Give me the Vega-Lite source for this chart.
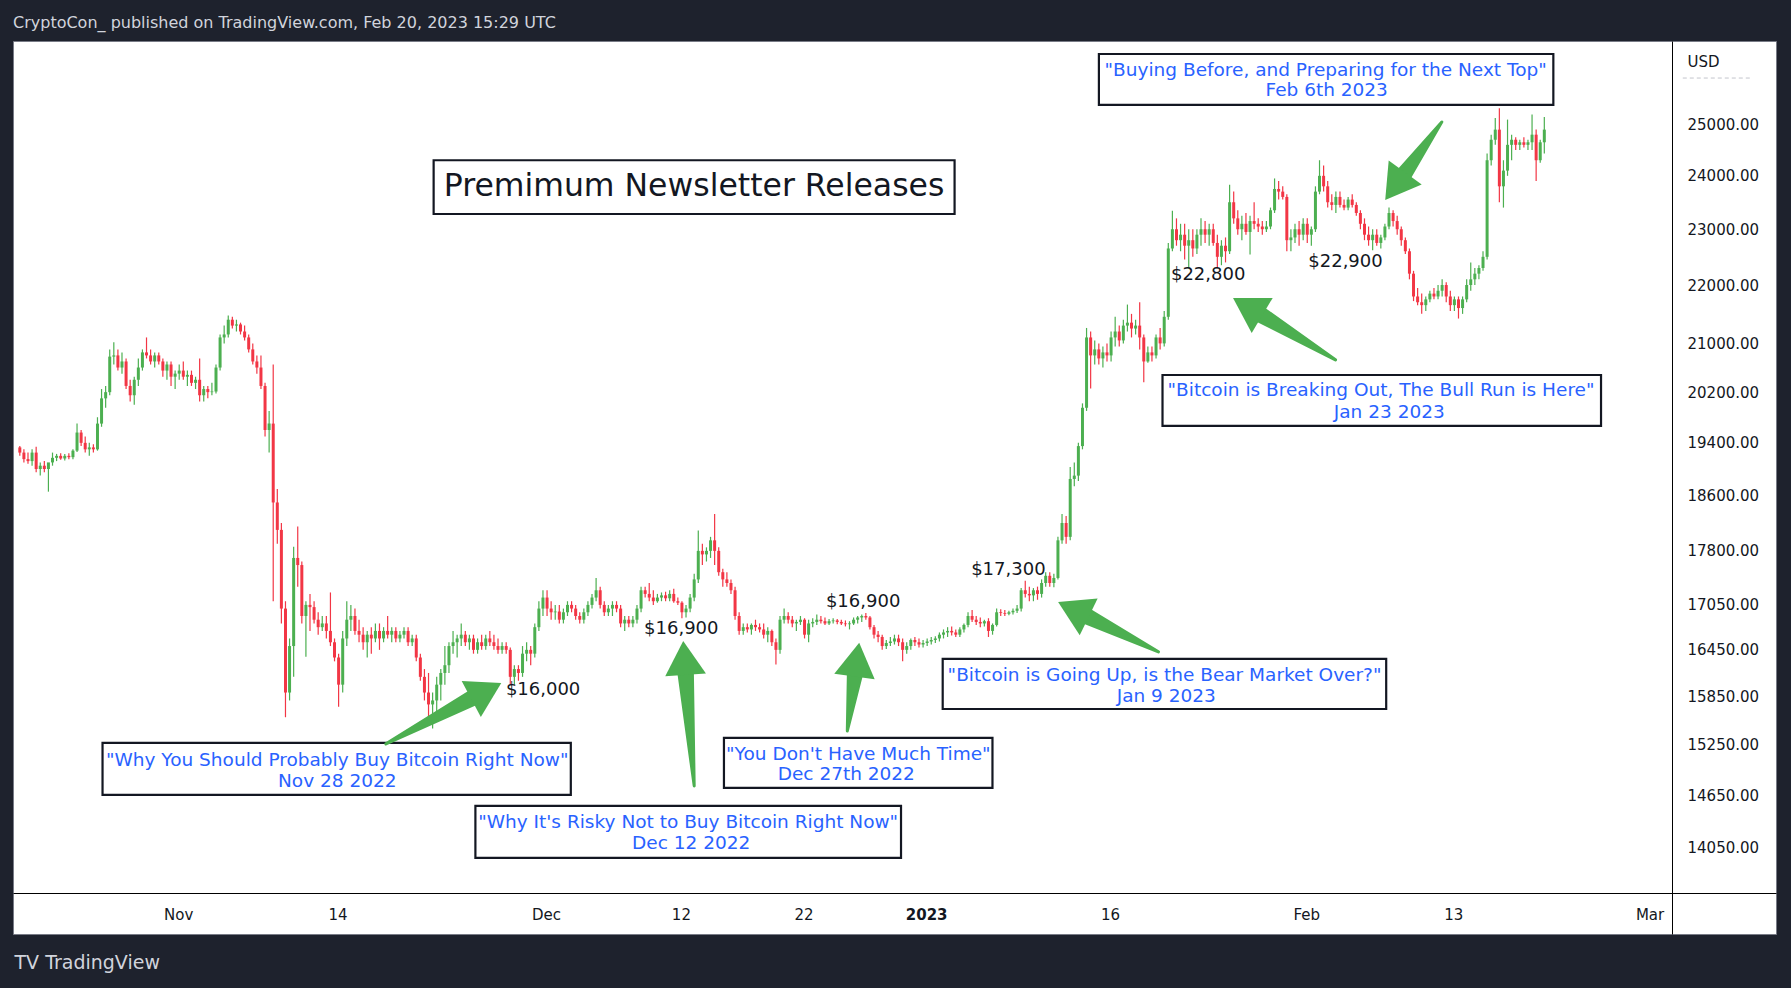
{
  "$schema": "https://vega.github.io/schema/vega-lite/v6.json",
  "description": "BTCUSD 8h candles with premium newsletter release annotations.",
  "width": 1763,
  "height": 893,
  "autosize": {"type": "none"},
  "padding": {"left": 13, "top": 41, "right": 15, "bottom": 54},
  "background": "#1e222d",
  "title": {
    "text": "CryptoCon_ published on TradingView.com, Feb 20, 2023 15:29 UTC",
    "anchor": "start",
    "frame": "group",
    "color": "#d1d4dc",
    "font": "DejaVu Sans",
    "fontSize": 16,
    "fontWeight": "normal",
    "offset": 10
  },
  "config": {
    "font": "DejaVu Sans",
    "view": {"stroke": "#787b86", "strokeWidth": 1, "fill": "#ffffff"}
  },
  "resolve": {"axis": {"x": "independent", "y": "independent"}},
  "data": {
    "format": {"parse": {"t": "utc:'%Y-%m-%d %H'"}},
    "values": [
      {"t":"2022-10-19 02","o":19330,"h":19350,"l":19200,"c":19250},
      {"t":"2022-10-19 10","o":19250,"h":19300,"l":19100,"c":19150},
      {"t":"2022-10-19 18","o":19150,"h":19250,"l":19080,"c":19120},
      {"t":"2022-10-20 02","o":19120,"h":19300,"l":19050,"c":19250},
      {"t":"2022-10-20 10","o":19250,"h":19340,"l":18950,"c":19000},
      {"t":"2022-10-20 18","o":19000,"h":19100,"l":18900,"c":19050},
      {"t":"2022-10-21 02","o":19050,"h":19120,"l":18950,"c":19000},
      {"t":"2022-10-21 10","o":19000,"h":19050,"l":18660,"c":19100},
      {"t":"2022-10-21 18","o":19100,"h":19250,"l":19050,"c":19170},
      {"t":"2022-10-22 02","o":19170,"h":19230,"l":19120,"c":19200},
      {"t":"2022-10-22 10","o":19200,"h":19240,"l":19140,"c":19160},
      {"t":"2022-10-22 18","o":19160,"h":19230,"l":19130,"c":19200},
      {"t":"2022-10-23 02","o":19200,"h":19240,"l":19150,"c":19180},
      {"t":"2022-10-23 10","o":19180,"h":19300,"l":19150,"c":19280},
      {"t":"2022-10-23 18","o":19280,"h":19700,"l":19260,"c":19560},
      {"t":"2022-10-24 02","o":19560,"h":19600,"l":19350,"c":19400},
      {"t":"2022-10-24 10","o":19400,"h":19500,"l":19250,"c":19300},
      {"t":"2022-10-24 18","o":19300,"h":19400,"l":19200,"c":19330},
      {"t":"2022-10-25 02","o":19330,"h":19380,"l":19250,"c":19300},
      {"t":"2022-10-25 10","o":19300,"h":19800,"l":19280,"c":19700},
      {"t":"2022-10-25 18","o":19700,"h":20250,"l":19650,"c":20100},
      {"t":"2022-10-26 02","o":20100,"h":20300,"l":19950,"c":20200},
      {"t":"2022-10-26 10","o":20200,"h":20900,"l":20150,"c":20780},
      {"t":"2022-10-26 18","o":20780,"h":21020,"l":20650,"c":20800},
      {"t":"2022-10-27 02","o":20800,"h":20900,"l":20550,"c":20600},
      {"t":"2022-10-27 10","o":20600,"h":20850,"l":20500,"c":20700},
      {"t":"2022-10-27 18","o":20700,"h":20750,"l":20250,"c":20300},
      {"t":"2022-10-28 02","o":20300,"h":20400,"l":20050,"c":20150},
      {"t":"2022-10-28 10","o":20150,"h":20450,"l":20000,"c":20400},
      {"t":"2022-10-28 18","o":20400,"h":20750,"l":20300,"c":20600},
      {"t":"2022-10-29 02","o":20600,"h":20900,"l":20550,"c":20850},
      {"t":"2022-10-29 10","o":20850,"h":21100,"l":20750,"c":20800},
      {"t":"2022-10-29 18","o":20800,"h":20900,"l":20650,"c":20700},
      {"t":"2022-10-30 02","o":20700,"h":20850,"l":20600,"c":20800},
      {"t":"2022-10-30 10","o":20800,"h":20850,"l":20650,"c":20700},
      {"t":"2022-10-30 18","o":20700,"h":20750,"l":20450,"c":20550},
      {"t":"2022-10-31 02","o":20550,"h":20700,"l":20400,"c":20650},
      {"t":"2022-10-31 10","o":20650,"h":20700,"l":20300,"c":20450},
      {"t":"2022-10-31 18","o":20450,"h":20550,"l":20250,"c":20500},
      {"t":"2022-11-01 02","o":20500,"h":20650,"l":20400,"c":20550},
      {"t":"2022-11-01 10","o":20550,"h":20700,"l":20400,"c":20450},
      {"t":"2022-11-01 18","o":20450,"h":20550,"l":20300,"c":20480},
      {"t":"2022-11-02 02","o":20480,"h":20550,"l":20300,"c":20350},
      {"t":"2022-11-02 10","o":20350,"h":20450,"l":20250,"c":20400},
      {"t":"2022-11-02 18","o":20400,"h":20750,"l":20050,"c":20150},
      {"t":"2022-11-03 02","o":20150,"h":20300,"l":20050,"c":20250},
      {"t":"2022-11-03 10","o":20250,"h":20300,"l":20100,"c":20200},
      {"t":"2022-11-03 18","o":20200,"h":20350,"l":20150,"c":20210},
      {"t":"2022-11-04 02","o":20210,"h":20650,"l":20180,"c":20600},
      {"t":"2022-11-04 10","o":20600,"h":21150,"l":20550,"c":21100},
      {"t":"2022-11-04 18","o":21100,"h":21300,"l":21000,"c":21150},
      {"t":"2022-11-05 02","o":21150,"h":21470,"l":21100,"c":21400},
      {"t":"2022-11-05 10","o":21400,"h":21450,"l":21250,"c":21300},
      {"t":"2022-11-05 18","o":21300,"h":21400,"l":21200,"c":21320},
      {"t":"2022-11-06 02","o":21320,"h":21350,"l":21150,"c":21200},
      {"t":"2022-11-06 10","o":21200,"h":21300,"l":21050,"c":21100},
      {"t":"2022-11-06 18","o":21100,"h":21150,"l":20850,"c":20900},
      {"t":"2022-11-07 02","o":20900,"h":21000,"l":20650,"c":20700},
      {"t":"2022-11-07 10","o":20700,"h":20800,"l":20500,"c":20600},
      {"t":"2022-11-07 18","o":20600,"h":20800,"l":20250,"c":20300},
      {"t":"2022-11-08 02","o":20300,"h":20350,"l":19500,"c":19600},
      {"t":"2022-11-08 10","o":19600,"h":19900,"l":19250,"c":19700},
      {"t":"2022-11-08 18","o":19700,"h":20650,"l":17100,"c":18500},
      {"t":"2022-11-09 02","o":18500,"h":18700,"l":17900,"c":18100},
      {"t":"2022-11-09 10","o":18100,"h":18200,"l":16800,"c":17000},
      {"t":"2022-11-09 18","o":17000,"h":17100,"l":15590,"c":15900},
      {"t":"2022-11-10 02","o":15900,"h":16600,"l":15800,"c":16500},
      {"t":"2022-11-10 10","o":16500,"h":17860,"l":16100,"c":17700},
      {"t":"2022-11-10 18","o":17700,"h":18150,"l":17300,"c":17600},
      {"t":"2022-11-11 02","o":17600,"h":17650,"l":16800,"c":16900},
      {"t":"2022-11-11 10","o":16900,"h":17100,"l":16360,"c":17050},
      {"t":"2022-11-11 18","o":17050,"h":17200,"l":16700,"c":17020},
      {"t":"2022-11-12 02","o":17020,"h":17100,"l":16800,"c":16850},
      {"t":"2022-11-12 10","o":16850,"h":16950,"l":16650,"c":16750},
      {"t":"2022-11-12 18","o":16750,"h":16900,"l":16700,"c":16800},
      {"t":"2022-11-13 02","o":16800,"h":16900,"l":16600,"c":16700},
      {"t":"2022-11-13 10","o":16700,"h":17220,"l":16500,"c":16550},
      {"t":"2022-11-13 18","o":16550,"h":16600,"l":16300,"c":16350},
      {"t":"2022-11-14 02","o":16350,"h":16400,"l":15720,"c":16000},
      {"t":"2022-11-14 10","o":16000,"h":16700,"l":15900,"c":16600},
      {"t":"2022-11-14 18","o":16600,"h":17100,"l":16500,"c":16850},
      {"t":"2022-11-15 02","o":16850,"h":17050,"l":16700,"c":16900},
      {"t":"2022-11-15 10","o":16900,"h":17000,"l":16650,"c":16700},
      {"t":"2022-11-15 18","o":16700,"h":16850,"l":16550,"c":16650},
      {"t":"2022-11-16 02","o":16650,"h":16750,"l":16450,"c":16550},
      {"t":"2022-11-16 10","o":16550,"h":16700,"l":16350,"c":16650},
      {"t":"2022-11-16 18","o":16650,"h":16750,"l":16400,"c":16600},
      {"t":"2022-11-17 02","o":16600,"h":16800,"l":16550,"c":16700},
      {"t":"2022-11-17 10","o":16700,"h":16800,"l":16450,"c":16600},
      {"t":"2022-11-17 18","o":16600,"h":16750,"l":16550,"c":16700},
      {"t":"2022-11-18 02","o":16700,"h":16900,"l":16600,"c":16650},
      {"t":"2022-11-18 10","o":16650,"h":16750,"l":16550,"c":16700},
      {"t":"2022-11-18 18","o":16700,"h":16750,"l":16550,"c":16600},
      {"t":"2022-11-19 02","o":16600,"h":16700,"l":16550,"c":16650},
      {"t":"2022-11-19 10","o":16650,"h":16750,"l":16600,"c":16700},
      {"t":"2022-11-19 18","o":16700,"h":16750,"l":16500,"c":16550},
      {"t":"2022-11-20 02","o":16550,"h":16650,"l":16500,"c":16600},
      {"t":"2022-11-20 10","o":16600,"h":16650,"l":16300,"c":16350},
      {"t":"2022-11-20 18","o":16350,"h":16400,"l":16050,"c":16100},
      {"t":"2022-11-21 02","o":16100,"h":16200,"l":15800,"c":15900},
      {"t":"2022-11-21 10","o":15900,"h":16150,"l":15600,"c":15750},
      {"t":"2022-11-21 18","o":15750,"h":15900,"l":15450,"c":15800},
      {"t":"2022-11-22 02","o":15800,"h":16100,"l":15650,"c":16000},
      {"t":"2022-11-22 10","o":16000,"h":16200,"l":15800,"c":16150},
      {"t":"2022-11-22 18","o":16150,"h":16500,"l":16000,"c":16250},
      {"t":"2022-11-23 02","o":16250,"h":16550,"l":16150,"c":16500},
      {"t":"2022-11-23 10","o":16500,"h":16700,"l":16400,"c":16550},
      {"t":"2022-11-23 18","o":16550,"h":16650,"l":16350,"c":16600},
      {"t":"2022-11-24 02","o":16600,"h":16800,"l":16500,"c":16650},
      {"t":"2022-11-24 10","o":16650,"h":16700,"l":16500,"c":16550},
      {"t":"2022-11-24 18","o":16550,"h":16650,"l":16450,"c":16600},
      {"t":"2022-11-25 02","o":16600,"h":16650,"l":16400,"c":16450},
      {"t":"2022-11-25 10","o":16450,"h":16600,"l":16400,"c":16550},
      {"t":"2022-11-25 18","o":16550,"h":16650,"l":16450,"c":16500},
      {"t":"2022-11-26 02","o":16500,"h":16650,"l":16450,"c":16600},
      {"t":"2022-11-26 10","o":16600,"h":16700,"l":16500,"c":16550},
      {"t":"2022-11-26 18","o":16550,"h":16650,"l":16450,"c":16500},
      {"t":"2022-11-27 02","o":16500,"h":16600,"l":16400,"c":16450},
      {"t":"2022-11-27 10","o":16450,"h":16550,"l":16400,"c":16500},
      {"t":"2022-11-27 18","o":16500,"h":16550,"l":16400,"c":16450},
      {"t":"2022-11-28 02","o":16450,"h":16480,"l":16000,"c":16100},
      {"t":"2022-11-28 10","o":16100,"h":16250,"l":16000,"c":16200},
      {"t":"2022-11-28 18","o":16200,"h":16250,"l":16050,"c":16150},
      {"t":"2022-11-29 02","o":16150,"h":16500,"l":16100,"c":16400},
      {"t":"2022-11-29 10","o":16400,"h":16550,"l":16300,"c":16450},
      {"t":"2022-11-29 18","o":16450,"h":16500,"l":16250,"c":16400},
      {"t":"2022-11-30 02","o":16400,"h":16800,"l":16350,"c":16750},
      {"t":"2022-11-30 10","o":16750,"h":17100,"l":16700,"c":17000},
      {"t":"2022-11-30 18","o":17000,"h":17250,"l":16900,"c":17150},
      {"t":"2022-12-01 02","o":17150,"h":17250,"l":16900,"c":17000},
      {"t":"2022-12-01 10","o":17000,"h":17100,"l":16850,"c":16950},
      {"t":"2022-12-01 18","o":16950,"h":17050,"l":16850,"c":16960},
      {"t":"2022-12-02 02","o":16960,"h":17050,"l":16800,"c":16850},
      {"t":"2022-12-02 10","o":16850,"h":17000,"l":16800,"c":16950},
      {"t":"2022-12-02 18","o":16950,"h":17100,"l":16900,"c":17050},
      {"t":"2022-12-03 02","o":17050,"h":17100,"l":16950,"c":17000},
      {"t":"2022-12-03 10","o":17000,"h":17050,"l":16850,"c":16900},
      {"t":"2022-12-03 18","o":16900,"h":16950,"l":16800,"c":16850},
      {"t":"2022-12-04 02","o":16850,"h":17000,"l":16800,"c":16950},
      {"t":"2022-12-04 10","o":16950,"h":17100,"l":16900,"c":17050},
      {"t":"2022-12-04 18","o":17050,"h":17200,"l":17000,"c":17150},
      {"t":"2022-12-05 02","o":17150,"h":17420,"l":17100,"c":17250},
      {"t":"2022-12-05 10","o":17250,"h":17300,"l":17000,"c":17050},
      {"t":"2022-12-05 18","o":17050,"h":17100,"l":16900,"c":16950},
      {"t":"2022-12-06 02","o":16950,"h":17050,"l":16900,"c":17000},
      {"t":"2022-12-06 10","o":17000,"h":17100,"l":16900,"c":17050},
      {"t":"2022-12-06 18","o":17050,"h":17100,"l":16950,"c":17000},
      {"t":"2022-12-07 02","o":17000,"h":17050,"l":16750,"c":16800},
      {"t":"2022-12-07 10","o":16800,"h":16900,"l":16700,"c":16850},
      {"t":"2022-12-07 18","o":16850,"h":16900,"l":16750,"c":16800},
      {"t":"2022-12-08 02","o":16800,"h":16900,"l":16750,"c":16850},
      {"t":"2022-12-08 10","o":16850,"h":17050,"l":16800,"c":17000},
      {"t":"2022-12-08 18","o":17000,"h":17300,"l":16950,"c":17250},
      {"t":"2022-12-09 02","o":17250,"h":17300,"l":17150,"c":17200},
      {"t":"2022-12-09 10","o":17200,"h":17350,"l":17100,"c":17150},
      {"t":"2022-12-09 18","o":17150,"h":17250,"l":17050,"c":17100},
      {"t":"2022-12-10 02","o":17100,"h":17200,"l":17080,"c":17150},
      {"t":"2022-12-10 10","o":17150,"h":17220,"l":17100,"c":17180},
      {"t":"2022-12-10 18","o":17180,"h":17230,"l":17100,"c":17140},
      {"t":"2022-12-11 02","o":17140,"h":17250,"l":17100,"c":17200},
      {"t":"2022-12-11 10","o":17200,"h":17270,"l":17080,"c":17100},
      {"t":"2022-12-11 18","o":17100,"h":17150,"l":17050,"c":17080},
      {"t":"2022-12-12 02","o":17080,"h":17100,"l":16870,"c":16950},
      {"t":"2022-12-12 10","o":16950,"h":17050,"l":16880,"c":17000},
      {"t":"2022-12-12 18","o":17000,"h":17200,"l":16950,"c":17150},
      {"t":"2022-12-13 02","o":17150,"h":17480,"l":17100,"c":17400},
      {"t":"2022-12-13 10","o":17400,"h":18090,"l":17350,"c":17800},
      {"t":"2022-12-13 18","o":17800,"h":17900,"l":17600,"c":17750},
      {"t":"2022-12-14 02","o":17750,"h":17850,"l":17650,"c":17800},
      {"t":"2022-12-14 10","o":17800,"h":18000,"l":17700,"c":17950},
      {"t":"2022-12-14 18","o":17950,"h":18330,"l":17600,"c":17800},
      {"t":"2022-12-15 02","o":17800,"h":17850,"l":17450,"c":17500},
      {"t":"2022-12-15 10","o":17500,"h":17550,"l":17300,"c":17400},
      {"t":"2022-12-15 18","o":17400,"h":17500,"l":17300,"c":17350},
      {"t":"2022-12-16 02","o":17350,"h":17400,"l":17200,"c":17250},
      {"t":"2022-12-16 10","o":17250,"h":17300,"l":16850,"c":16900},
      {"t":"2022-12-16 18","o":16900,"h":16950,"l":16650,"c":16700},
      {"t":"2022-12-17 02","o":16700,"h":16800,"l":16650,"c":16750},
      {"t":"2022-12-17 10","o":16750,"h":16800,"l":16680,"c":16720},
      {"t":"2022-12-17 18","o":16720,"h":16800,"l":16650,"c":16780},
      {"t":"2022-12-18 02","o":16780,"h":16850,"l":16700,"c":16750},
      {"t":"2022-12-18 10","o":16750,"h":16800,"l":16680,"c":16720},
      {"t":"2022-12-18 18","o":16720,"h":16800,"l":16600,"c":16650},
      {"t":"2022-12-19 02","o":16650,"h":16750,"l":16550,"c":16700},
      {"t":"2022-12-19 10","o":16700,"h":16720,"l":16500,"c":16550},
      {"t":"2022-12-19 18","o":16550,"h":16600,"l":16260,"c":16450},
      {"t":"2022-12-20 02","o":16450,"h":16900,"l":16400,"c":16850},
      {"t":"2022-12-20 10","o":16850,"h":17000,"l":16800,"c":16900},
      {"t":"2022-12-20 18","o":16900,"h":16950,"l":16800,"c":16850},
      {"t":"2022-12-21 02","o":16850,"h":16900,"l":16750,"c":16800},
      {"t":"2022-12-21 10","o":16800,"h":16850,"l":16700,"c":16820},
      {"t":"2022-12-21 18","o":16820,"h":16900,"l":16780,"c":16850},
      {"t":"2022-12-22 02","o":16850,"h":16870,"l":16600,"c":16650},
      {"t":"2022-12-22 10","o":16650,"h":16850,"l":16550,"c":16800},
      {"t":"2022-12-22 18","o":16800,"h":16870,"l":16750,"c":16820},
      {"t":"2022-12-23 02","o":16820,"h":16920,"l":16780,"c":16850},
      {"t":"2022-12-23 10","o":16850,"h":16900,"l":16800,"c":16830},
      {"t":"2022-12-23 18","o":16830,"h":16880,"l":16780,"c":16800},
      {"t":"2022-12-24 02","o":16800,"h":16860,"l":16780,"c":16830},
      {"t":"2022-12-24 10","o":16830,"h":16870,"l":16800,"c":16840},
      {"t":"2022-12-24 18","o":16840,"h":16860,"l":16790,"c":16820},
      {"t":"2022-12-25 02","o":16820,"h":16850,"l":16780,"c":16800},
      {"t":"2022-12-25 10","o":16800,"h":16840,"l":16760,"c":16790},
      {"t":"2022-12-25 18","o":16790,"h":16830,"l":16720,"c":16800},
      {"t":"2022-12-26 02","o":16800,"h":16880,"l":16780,"c":16850},
      {"t":"2022-12-26 10","o":16850,"h":16900,"l":16800,"c":16880},
      {"t":"2022-12-26 18","o":16880,"h":16920,"l":16820,"c":16900},
      {"t":"2022-12-27 02","o":16900,"h":16940,"l":16850,"c":16880},
      {"t":"2022-12-27 10","o":16880,"h":16900,"l":16720,"c":16750},
      {"t":"2022-12-27 18","o":16750,"h":16780,"l":16600,"c":16650},
      {"t":"2022-12-28 02","o":16650,"h":16700,"l":16550,"c":16620},
      {"t":"2022-12-28 10","o":16620,"h":16650,"l":16450,"c":16500},
      {"t":"2022-12-28 18","o":16500,"h":16580,"l":16460,"c":16540},
      {"t":"2022-12-29 02","o":16540,"h":16620,"l":16500,"c":16560},
      {"t":"2022-12-29 10","o":16560,"h":16650,"l":16520,"c":16600},
      {"t":"2022-12-29 18","o":16600,"h":16650,"l":16500,"c":16550},
      {"t":"2022-12-30 02","o":16550,"h":16600,"l":16300,"c":16450},
      {"t":"2022-12-30 10","o":16450,"h":16550,"l":16400,"c":16500},
      {"t":"2022-12-30 18","o":16500,"h":16600,"l":16450,"c":16580},
      {"t":"2022-12-31 02","o":16580,"h":16620,"l":16500,"c":16550},
      {"t":"2022-12-31 10","o":16550,"h":16600,"l":16480,"c":16520},
      {"t":"2022-12-31 18","o":16520,"h":16580,"l":16480,"c":16540},
      {"t":"2023-01-01 02","o":16540,"h":16600,"l":16500,"c":16560},
      {"t":"2023-01-01 10","o":16560,"h":16620,"l":16520,"c":16580},
      {"t":"2023-01-01 18","o":16580,"h":16630,"l":16540,"c":16600},
      {"t":"2023-01-02 02","o":16600,"h":16680,"l":16560,"c":16650},
      {"t":"2023-01-02 10","o":16650,"h":16720,"l":16600,"c":16680},
      {"t":"2023-01-02 18","o":16680,"h":16750,"l":16620,"c":16700},
      {"t":"2023-01-03 02","o":16700,"h":16760,"l":16640,"c":16680},
      {"t":"2023-01-03 10","o":16680,"h":16720,"l":16620,"c":16650},
      {"t":"2023-01-03 18","o":16650,"h":16750,"l":16620,"c":16720},
      {"t":"2023-01-04 02","o":16720,"h":16800,"l":16680,"c":16780},
      {"t":"2023-01-04 10","o":16780,"h":16950,"l":16750,"c":16900},
      {"t":"2023-01-04 18","o":16900,"h":16980,"l":16820,"c":16850},
      {"t":"2023-01-05 02","o":16850,"h":16900,"l":16780,"c":16820},
      {"t":"2023-01-05 10","o":16820,"h":16880,"l":16750,"c":16800},
      {"t":"2023-01-05 18","o":16800,"h":16850,"l":16760,"c":16830},
      {"t":"2023-01-06 02","o":16830,"h":16870,"l":16620,"c":16700},
      {"t":"2023-01-06 10","o":16700,"h":16800,"l":16650,"c":16780},
      {"t":"2023-01-06 18","o":16780,"h":17000,"l":16760,"c":16950},
      {"t":"2023-01-07 02","o":16950,"h":16990,"l":16900,"c":16940},
      {"t":"2023-01-07 10","o":16940,"h":16980,"l":16900,"c":16930},
      {"t":"2023-01-07 18","o":16930,"h":16970,"l":16910,"c":16950},
      {"t":"2023-01-08 02","o":16950,"h":17000,"l":16920,"c":16970},
      {"t":"2023-01-08 10","o":16970,"h":17050,"l":16940,"c":17000},
      {"t":"2023-01-08 18","o":17000,"h":17280,"l":16960,"c":17250},
      {"t":"2023-01-09 02","o":17250,"h":17380,"l":17150,"c":17200},
      {"t":"2023-01-09 10","o":17200,"h":17300,"l":17100,"c":17180},
      {"t":"2023-01-09 18","o":17180,"h":17280,"l":17100,"c":17250},
      {"t":"2023-01-10 02","o":17250,"h":17300,"l":17120,"c":17200},
      {"t":"2023-01-10 10","o":17200,"h":17400,"l":17150,"c":17350},
      {"t":"2023-01-10 18","o":17350,"h":17500,"l":17300,"c":17450},
      {"t":"2023-01-11 02","o":17450,"h":17500,"l":17300,"c":17350},
      {"t":"2023-01-11 10","o":17350,"h":17480,"l":17290,"c":17420},
      {"t":"2023-01-11 18","o":17420,"h":18000,"l":17400,"c":17950},
      {"t":"2023-01-12 02","o":17950,"h":18330,"l":17900,"c":18200},
      {"t":"2023-01-12 10","o":18200,"h":18300,"l":17900,"c":18000},
      {"t":"2023-01-12 18","o":18000,"h":19030,"l":17950,"c":18850},
      {"t":"2023-01-13 02","o":18850,"h":19100,"l":18740,"c":18900},
      {"t":"2023-01-13 10","o":18900,"h":19400,"l":18820,"c":19350},
      {"t":"2023-01-13 18","o":19350,"h":20020,"l":19300,"c":19950},
      {"t":"2023-01-14 02","o":19950,"h":21260,"l":19900,"c":21100},
      {"t":"2023-01-14 10","o":21100,"h":21200,"l":20260,"c":20800},
      {"t":"2023-01-14 18","o":20800,"h":21050,"l":20650,"c":20900},
      {"t":"2023-01-15 02","o":20900,"h":21000,"l":20650,"c":20750},
      {"t":"2023-01-15 10","o":20750,"h":20950,"l":20600,"c":20850},
      {"t":"2023-01-15 18","o":20850,"h":21000,"l":20700,"c":20800},
      {"t":"2023-01-16 02","o":20800,"h":21200,"l":20700,"c":21100},
      {"t":"2023-01-16 10","o":21100,"h":21450,"l":20950,"c":21200},
      {"t":"2023-01-16 18","o":21200,"h":21300,"l":20950,"c":21050},
      {"t":"2023-01-17 02","o":21050,"h":21400,"l":21000,"c":21300},
      {"t":"2023-01-17 10","o":21300,"h":21660,"l":21200,"c":21350},
      {"t":"2023-01-17 18","o":21350,"h":21500,"l":21100,"c":21250},
      {"t":"2023-01-18 02","o":21250,"h":21400,"l":21150,"c":21300},
      {"t":"2023-01-18 10","o":21300,"h":21700,"l":20900,"c":21100},
      {"t":"2023-01-18 18","o":21100,"h":21150,"l":20360,"c":20700},
      {"t":"2023-01-19 02","o":20700,"h":20950,"l":20680,"c":20850},
      {"t":"2023-01-19 10","o":20850,"h":20950,"l":20700,"c":20800},
      {"t":"2023-01-19 18","o":20800,"h":21150,"l":20750,"c":21100},
      {"t":"2023-01-20 02","o":21100,"h":21260,"l":20900,"c":21000},
      {"t":"2023-01-20 10","o":21000,"h":21550,"l":20950,"c":21450},
      {"t":"2023-01-20 18","o":21450,"h":22750,"l":21400,"c":22650},
      {"t":"2023-01-21 02","o":22650,"h":23340,"l":22600,"c":23000},
      {"t":"2023-01-21 10","o":23000,"h":23200,"l":22700,"c":22800},
      {"t":"2023-01-21 18","o":22800,"h":23100,"l":22600,"c":22900},
      {"t":"2023-01-22 02","o":22900,"h":23100,"l":22450,"c":22700},
      {"t":"2023-01-22 10","o":22700,"h":23000,"l":22300,"c":22800},
      {"t":"2023-01-22 18","o":22800,"h":23000,"l":22500,"c":22650},
      {"t":"2023-01-23 02","o":22650,"h":23000,"l":22550,"c":22900},
      {"t":"2023-01-23 10","o":22900,"h":23200,"l":22700,"c":23000},
      {"t":"2023-01-23 18","o":23000,"h":23150,"l":22750,"c":22900},
      {"t":"2023-01-24 02","o":22900,"h":23100,"l":22700,"c":23000},
      {"t":"2023-01-24 10","o":23000,"h":23100,"l":22700,"c":22750},
      {"t":"2023-01-24 18","o":22750,"h":22900,"l":22300,"c":22500},
      {"t":"2023-01-25 02","o":22500,"h":22800,"l":22350,"c":22700},
      {"t":"2023-01-25 10","o":22700,"h":22850,"l":22400,"c":22600},
      {"t":"2023-01-25 18","o":22600,"h":23830,"l":22550,"c":23500},
      {"t":"2023-01-26 02","o":23500,"h":23700,"l":23100,"c":23200},
      {"t":"2023-01-26 10","o":23200,"h":23350,"l":22900,"c":23000},
      {"t":"2023-01-26 18","o":23000,"h":23250,"l":22800,"c":23100},
      {"t":"2023-01-27 02","o":23100,"h":23300,"l":22900,"c":22950},
      {"t":"2023-01-27 10","o":22950,"h":23250,"l":22540,"c":23150},
      {"t":"2023-01-27 18","o":23150,"h":23500,"l":23000,"c":23100},
      {"t":"2023-01-28 02","o":23100,"h":23200,"l":22950,"c":23050},
      {"t":"2023-01-28 10","o":23050,"h":23150,"l":22900,"c":23000},
      {"t":"2023-01-28 18","o":23000,"h":23150,"l":22950,"c":23050},
      {"t":"2023-01-29 02","o":23050,"h":23400,"l":23000,"c":23350},
      {"t":"2023-01-29 10","o":23350,"h":23950,"l":23300,"c":23750},
      {"t":"2023-01-29 18","o":23750,"h":23900,"l":23550,"c":23700},
      {"t":"2023-01-30 02","o":23700,"h":23800,"l":23550,"c":23600},
      {"t":"2023-01-30 10","o":23600,"h":23650,"l":22600,"c":22800},
      {"t":"2023-01-30 18","o":22800,"h":23000,"l":22600,"c":22850},
      {"t":"2023-01-31 02","o":22850,"h":23100,"l":22750,"c":23000},
      {"t":"2023-01-31 10","o":23000,"h":23150,"l":22700,"c":22900},
      {"t":"2023-01-31 18","o":22900,"h":23200,"l":22800,"c":23100},
      {"t":"2023-02-01 02","o":23100,"h":23200,"l":22750,"c":22900},
      {"t":"2023-02-01 10","o":22900,"h":23050,"l":22700,"c":23000},
      {"t":"2023-02-01 18","o":23000,"h":23800,"l":22950,"c":23700},
      {"t":"2023-02-02 02","o":23700,"h":24300,"l":23650,"c":24000},
      {"t":"2023-02-02 10","o":24000,"h":24200,"l":23700,"c":23800},
      {"t":"2023-02-02 18","o":23800,"h":23900,"l":23400,"c":23500},
      {"t":"2023-02-03 02","o":23500,"h":23650,"l":23350,"c":23450},
      {"t":"2023-02-03 10","o":23450,"h":23700,"l":23300,"c":23600},
      {"t":"2023-02-03 18","o":23600,"h":23700,"l":23400,"c":23450},
      {"t":"2023-02-04 02","o":23450,"h":23550,"l":23350,"c":23400},
      {"t":"2023-02-04 10","o":23400,"h":23600,"l":23350,"c":23550},
      {"t":"2023-02-04 18","o":23550,"h":23650,"l":23400,"c":23450},
      {"t":"2023-02-05 02","o":23450,"h":23500,"l":23250,"c":23300},
      {"t":"2023-02-05 10","o":23300,"h":23350,"l":23000,"c":23100},
      {"t":"2023-02-05 18","o":23100,"h":23200,"l":22800,"c":22900},
      {"t":"2023-02-06 02","o":22900,"h":23050,"l":22700,"c":22800},
      {"t":"2023-02-06 10","o":22800,"h":23000,"l":22620,"c":22900},
      {"t":"2023-02-06 18","o":22900,"h":23000,"l":22700,"c":22750},
      {"t":"2023-02-07 02","o":22750,"h":22900,"l":22650,"c":22850},
      {"t":"2023-02-07 10","o":22850,"h":23100,"l":22800,"c":23050},
      {"t":"2023-02-07 18","o":23050,"h":23400,"l":23000,"c":23300},
      {"t":"2023-02-08 02","o":23300,"h":23350,"l":23050,"c":23150},
      {"t":"2023-02-08 10","o":23150,"h":23250,"l":22900,"c":23000},
      {"t":"2023-02-08 18","o":23000,"h":23050,"l":22700,"c":22800},
      {"t":"2023-02-09 02","o":22800,"h":22850,"l":22550,"c":22600},
      {"t":"2023-02-09 10","o":22600,"h":22650,"l":22100,"c":22200},
      {"t":"2023-02-09 18","o":22200,"h":22250,"l":21720,"c":21800},
      {"t":"2023-02-10 02","o":21800,"h":21950,"l":21650,"c":21700},
      {"t":"2023-02-10 10","o":21700,"h":21850,"l":21500,"c":21650},
      {"t":"2023-02-10 18","o":21650,"h":21800,"l":21550,"c":21750},
      {"t":"2023-02-11 02","o":21750,"h":21900,"l":21700,"c":21850},
      {"t":"2023-02-11 10","o":21850,"h":21950,"l":21750,"c":21800},
      {"t":"2023-02-11 18","o":21800,"h":22000,"l":21750,"c":21900},
      {"t":"2023-02-12 02","o":21900,"h":22100,"l":21800,"c":22000},
      {"t":"2023-02-12 10","o":22000,"h":22050,"l":21700,"c":21800},
      {"t":"2023-02-12 18","o":21800,"h":21900,"l":21550,"c":21650},
      {"t":"2023-02-13 02","o":21650,"h":21800,"l":21550,"c":21750},
      {"t":"2023-02-13 10","o":21750,"h":21800,"l":21420,"c":21600},
      {"t":"2023-02-13 18","o":21600,"h":21800,"l":21500,"c":21750},
      {"t":"2023-02-14 02","o":21750,"h":22100,"l":21700,"c":22000},
      {"t":"2023-02-14 10","o":22000,"h":22400,"l":21900,"c":22100},
      {"t":"2023-02-14 18","o":22100,"h":22300,"l":22000,"c":22200},
      {"t":"2023-02-15 02","o":22200,"h":22350,"l":22100,"c":22300},
      {"t":"2023-02-15 10","o":22300,"h":22600,"l":22250,"c":22500},
      {"t":"2023-02-15 18","o":22500,"h":24430,"l":22450,"c":24300},
      {"t":"2023-02-16 02","o":24300,"h":24800,"l":24200,"c":24700},
      {"t":"2023-02-16 10","o":24700,"h":25130,"l":24600,"c":24900},
      {"t":"2023-02-16 18","o":24900,"h":25330,"l":23500,"c":23800},
      {"t":"2023-02-17 02","o":23800,"h":24300,"l":23400,"c":24100},
      {"t":"2023-02-17 10","o":24100,"h":25100,"l":24000,"c":24600},
      {"t":"2023-02-17 18","o":24600,"h":24800,"l":24300,"c":24700},
      {"t":"2023-02-18 02","o":24700,"h":24750,"l":24500,"c":24600},
      {"t":"2023-02-18 10","o":24600,"h":24700,"l":24500,"c":24650},
      {"t":"2023-02-18 18","o":24650,"h":24750,"l":24550,"c":24600},
      {"t":"2023-02-19 02","o":24600,"h":24700,"l":24500,"c":24650},
      {"t":"2023-02-19 10","o":24650,"h":25200,"l":24500,"c":24800},
      {"t":"2023-02-19 18","o":24800,"h":24900,"l":23900,"c":24300},
      {"t":"2023-02-20 02","o":24300,"h":24700,"l":24250,"c":24650},
      {"t":"2023-02-20 10","o":24650,"h":25150,"l":24430,"c":24900}
    ]
  },
  "layer": [
    {
      "mark": {"type": "rule", "strokeWidth": 1.2},
      "encoding": {
        "x": {
          "field": "t",
          "type": "temporal",
          "scale": {
            "type": "utc",
            "nice": false,
            "domain": [
              {"year": 2022, "month": 10, "date": 18, "hours": 22, "minutes": 27, "utc": true},
              {"year": 2023, "month": 3, "date": 10, "hours": 21, "minutes": 42, "utc": true}
            ]
          },
          "axis": {
            "orient": "bottom",
            "offset": -41,
            "values": [
              {"year": 2022, "month": 11, "date": 1, "utc": true},
              {"year": 2022, "month": 11, "date": 14, "utc": true},
              {"year": 2022, "month": 12, "date": 1, "utc": true},
              {"year": 2022, "month": 12, "date": 12, "utc": true},
              {"year": 2022, "month": 12, "date": 22, "utc": true},
              {"year": 2023, "month": 1, "date": 1, "utc": true},
              {"year": 2023, "month": 1, "date": 16, "utc": true},
              {"year": 2023, "month": 2, "date": 1, "utc": true},
              {"year": 2023, "month": 2, "date": 13, "utc": true},
              {"year": 2023, "month": 3, "date": 1, "utc": true}
            ],
            "labelExpr": "utcdate(datum.value) == 1 ? (utcmonth(datum.value) == 0 ? '2023' : utcFormat(datum.value, '%b')) : '' + utcdate(datum.value)",
            "labelFontWeight": {"condition": {"test": "utcmonth(datum.value) == 0 && utcdate(datum.value) == 1", "value": "bold"}, "value": "normal"},
            "ticks": false,
            "grid": false,
            "domainColor": "#000000",
            "labelColor": "#131722",
            "labelFontSize": 15,
            "labelPadding": 14,
            "labelFlush": false,
            "labelOverlap": false,
            "labelBound": false,
            "title": "TV  TradingView",
            "titleX": 1,
            "titleY": 69,
            "titleAlign": "left",
            "titleBaseline": "middle",
            "titleColor": "#d1d4dc",
            "titleFontSize": 19,
            "titleFontWeight": "normal"
          }
        },
        "y": {
          "field": "l",
          "type": "quantitative",
          "scale": {"type": "log", "domain": [13117, 26722], "nice": false, "zero": false},
          "axis": {
            "orient": "right",
            "offset": -104,
            "values": [25000, 24000, 23000, 22000, 21000, 20200, 19400, 18600, 17800, 17050, 16450, 15850, 15250, 14650, 14050],
            "format": ".2f",
            "ticks": false,
            "grid": false,
            "domainColor": "#000000",
            "labelColor": "#131722",
            "labelFontSize": 15,
            "labelPadding": 15,
            "labelFlush": false,
            "labelOverlap": false,
            "labelBound": false,
            "title": "USD",
            "titleAngle": 0,
            "titleX": 15,
            "titleY": 20,
            "titleAlign": "left",
            "titleBaseline": "middle",
            "titleColor": "#131722",
            "titleFontSize": 15,
            "titleFontWeight": "normal"
          }
        },
        "y2": {"field": "h"},
        "color": {"condition": {"test": "datum.c >= datum.o", "value": "#4caf50"}, "value": "#f23645"}
      }
    },
    {
      "mark": {"type": "bar", "size": 3},
      "encoding": {
        "x": {"field": "t", "type": "temporal", "axis": null},
        "y": {"field": "o", "type": "quantitative", "axis": null},
        "y2": {"field": "c"},
        "color": {"condition": {"test": "datum.c >= datum.o", "value": "#4caf50"}, "value": "#f23645"}
      }
    },
    {
      "data": {
        "values": [
          {"t": "2023-03-03T17:00:00Z", "t2": "2023-03-09T09:00:00Z", "p": 25945}
        ]
      },
      "mark": {"type": "rule", "color": "#c3c5cc", "strokeWidth": 1, "strokeDash": [4, 3]},
      "encoding": {
        "x": {"field": "t", "type": "temporal", "axis": null},
        "x2": {"field": "t2"},
        "y": {"field": "p", "type": "quantitative", "axis": null}
      }
    },
    {
      "data": {
        "values": [
          {"box": "title", "t": "2022-11-21T20:00:00Z", "t2": "2023-01-03T07:40:00Z", "p": 24300, "p2": 23281},
          {"box": "feb6", "t": "2023-01-15T02:10:00Z", "t2": "2023-02-21T03:40:00Z", "p": 26447, "p2": 25394},
          {"box": "jan23", "t": "2023-01-20T06:40:00Z", "t2": "2023-02-25T01:00:00Z", "p": 20478, "p2": 19663},
          {"box": "jan9", "t": "2023-01-02T08:25:00Z", "t2": "2023-02-07T12:30:00Z", "p": 16331, "p2": 15693},
          {"box": "dec27", "t": "2022-12-15T12:15:00Z", "t2": "2023-01-06T09:50:00Z", "p": 15335, "p2": 14736},
          {"box": "dec12", "t": "2022-11-25T05:45:00Z", "t2": "2022-12-29T22:50:00Z", "p": 14526, "p2": 13937},
          {"box": "nov28", "t": "2022-10-25T19:55:00Z", "t2": "2022-12-03T00:30:00Z", "p": 15274, "p2": 14654}
        ]
      },
      "mark": {"type": "rect", "fill": "#ffffff", "stroke": "#131722", "strokeWidth": 2.2},
      "encoding": {
        "x": {"field": "t", "type": "temporal", "axis": null},
        "x2": {"field": "t2"},
        "y": {"field": "p", "type": "quantitative", "axis": null},
        "y2": {"field": "p2"}
      }
    },
    {
      "data": {
        "values": [
          {"t": "2023-02-02T14:00:00Z", "p": 26112, "text": "\"Buying Before, and Preparing for the Next Top\""},
          {"t": "2023-02-02T16:00:00Z", "p": 25699, "text": "Feb 6th 2023"},
          {"t": "2023-02-07T02:25:00Z", "p": 20235, "text": "\"Bitcoin is Breaking Out, The Bull Run is Here\""},
          {"t": "2023-02-07T18:30:00Z", "p": 19883, "text": "Jan 23 2023"},
          {"t": "2023-01-20T10:35:00Z", "p": 16124, "text": "\"Bitcoin is Going Up, is the Bear Market Over?\""},
          {"t": "2023-01-20T14:00:00Z", "p": 15857, "text": "Jan 9 2023"},
          {"t": "2022-12-26T11:20:00Z", "p": 15141, "text": "\"You Don't Have Much Time\""},
          {"t": "2022-12-25T11:45:00Z", "p": 14901, "text": "Dec 27th 2022"},
          {"t": "2022-12-12T14:10:00Z", "p": 14342, "text": "\"Why It's Risky Not to Buy Bitcoin Right Now\""},
          {"t": "2022-12-12T20:00:00Z", "p": 14104, "text": "Dec 12 2022"},
          {"t": "2022-11-13T23:20:00Z", "p": 15068, "text": "\"Why You Should Probably Buy Bitcoin Right Now\""},
          {"t": "2022-11-13T23:20:00Z", "p": 14818, "text": "Nov 28 2022"}
        ]
      },
      "mark": {"type": "text", "color": "#2962ff", "fontSize": 18.5, "align": "center", "baseline": "middle"},
      "encoding": {
        "x": {"field": "t", "type": "temporal", "axis": null},
        "y": {"field": "p", "type": "quantitative", "axis": null},
        "text": {"field": "text"}
      }
    },
    {
      "data": {
        "values": [
          {"t": "2022-11-30T18:15:00Z", "p": 15933, "text": "$16,000"},
          {"t": "2022-12-12T00:45:00Z", "p": 16725, "text": "$16,900"},
          {"t": "2022-12-26T20:40:00Z", "p": 17090, "text": "$16,900"},
          {"t": "2023-01-07T17:00:00Z", "p": 17530, "text": "$17,300"},
          {"t": "2023-01-24T00:00:00Z", "p": 22178, "text": "$22,800"},
          {"t": "2023-02-04T04:50:00Z", "p": 22408, "text": "$22,900"}
        ]
      },
      "mark": {"type": "text", "color": "#131722", "fontSize": 18, "align": "center", "baseline": "middle"},
      "encoding": {
        "x": {"field": "t", "type": "temporal", "axis": null},
        "y": {"field": "p", "type": "quantitative", "axis": null},
        "text": {"field": "text"}
      }
    },
    {
      "data": {
        "values": [
          {"t": "2022-12-13T01:40:00Z", "p": 23790, "text": "Premimum Newsletter Releases"}
        ]
      },
      "mark": {"type": "text", "color": "#131722", "fontSize": 31.5, "align": "center", "baseline": "middle"},
      "encoding": {
        "x": {"field": "t", "type": "temporal", "axis": null},
        "y": {"field": "p", "type": "quantitative", "axis": null},
        "text": {"field": "text"}
      }
    },
    {
      "data": {
        "values": [
          {"arrow": "a1", "seq": 0, "t": "2022-11-17T22:30:00Z", "p": 15262},
          {"arrow": "a1", "seq": 1, "t": "2022-11-25T08:10:00Z", "p": 15858},
          {"arrow": "a1", "seq": 2, "t": "2022-11-27T08:24:00Z", "p": 16020},
          {"arrow": "a2", "seq": 0, "t": "2022-12-13T02:00:00Z", "p": 14760},
          {"arrow": "a2", "seq": 1, "t": "2022-12-12T08:40:00Z", "p": 16202},
          {"arrow": "a2", "seq": 2, "t": "2022-12-12T04:30:00Z", "p": 16567},
          {"arrow": "a3", "seq": 0, "t": "2022-12-25T13:40:00Z", "p": 15420},
          {"arrow": "a3", "seq": 1, "t": "2022-12-26T05:30:00Z", "p": 16180},
          {"arrow": "a3", "seq": 2, "t": "2022-12-26T13:00:00Z", "p": 16542},
          {"arrow": "a4", "seq": 0, "t": "2023-01-19T22:50:00Z", "p": 16423},
          {"arrow": "a4", "seq": 1, "t": "2023-01-13T19:10:00Z", "p": 16922},
          {"arrow": "a4", "seq": 2, "t": "2023-01-11T18:20:00Z", "p": 17090},
          {"arrow": "a5", "seq": 0, "t": "2023-02-03T09:20:00Z", "p": 20726},
          {"arrow": "a5", "seq": 1, "t": "2023-01-27T23:30:00Z", "p": 21525},
          {"arrow": "a5", "seq": 2, "t": "2023-01-26T00:45:00Z", "p": 21775},
          {"arrow": "a6", "seq": 0, "t": "2023-02-12T01:30:00Z", "p": 25052},
          {"arrow": "a6", "seq": 1, "t": "2023-02-08T18:45:00Z", "p": 23970},
          {"arrow": "a6", "seq": 2, "t": "2023-02-07T10:35:00Z", "p": 23542}
        ]
      },
      "layer": [
        {
          "transform": [{"filter": "datum.seq <= 1"}],
          "mark": {"type": "trail", "color": "#4caf50"},
          "encoding": {
            "x": {"field": "t", "type": "temporal", "axis": null},
            "y": {"field": "p", "type": "quantitative", "axis": null},
            "detail": {"field": "arrow"},
            "order": {"field": "seq"},
            "size": {"field": "seq", "type": "quantitative", "scale": {"domain": [0, 1], "range": [3, 17]}, "legend": null}
          }
        },
        {
          "transform": [{"filter": "datum.seq == 2 && datum.arrow == 'a1'"}],
          "mark": {"type": "point", "shape": "M0,0L0.6,1L-0.6,1Z", "filled": true, "color": "#4caf50", "opacity": 1, "size": 4624, "strokeWidth": 0, "angle": 62},
          "encoding": {
            "x": {"field": "t", "type": "temporal", "axis": null},
            "y": {"field": "p", "type": "quantitative", "axis": null}
          }
        },
        {
          "transform": [{"filter": "datum.seq == 2 && datum.arrow == 'a2'"}],
          "mark": {"type": "point", "shape": "M0,0L0.6,1L-0.6,1Z", "filled": true, "color": "#4caf50", "opacity": 1, "size": 4624, "strokeWidth": 0, "angle": 356},
          "encoding": {
            "x": {"field": "t", "type": "temporal", "axis": null},
            "y": {"field": "p", "type": "quantitative", "axis": null}
          }
        },
        {
          "transform": [{"filter": "datum.seq == 2 && datum.arrow == 'a3'"}],
          "mark": {"type": "point", "shape": "M0,0L0.6,1L-0.6,1Z", "filled": true, "color": "#4caf50", "opacity": 1, "size": 4624, "strokeWidth": 0, "angle": 8},
          "encoding": {
            "x": {"field": "t", "type": "temporal", "axis": null},
            "y": {"field": "p", "type": "quantitative", "axis": null}
          }
        },
        {
          "transform": [{"filter": "datum.seq == 2 && datum.arrow == 'a4'"}],
          "mark": {"type": "point", "shape": "M0,0L0.6,1L-0.6,1Z", "filled": true, "color": "#4caf50", "opacity": 1, "size": 4624, "strokeWidth": 0, "angle": 296},
          "encoding": {
            "x": {"field": "t", "type": "temporal", "axis": null},
            "y": {"field": "p", "type": "quantitative", "axis": null}
          }
        },
        {
          "transform": [{"filter": "datum.seq == 2 && datum.arrow == 'a5'"}],
          "mark": {"type": "point", "shape": "M0,0L0.6,1L-0.6,1Z", "filled": true, "color": "#4caf50", "opacity": 1, "size": 4624, "strokeWidth": 0, "angle": 301},
          "encoding": {
            "x": {"field": "t", "type": "temporal", "axis": null},
            "y": {"field": "p", "type": "quantitative", "axis": null}
          }
        },
        {
          "transform": [{"filter": "datum.seq == 2 && datum.arrow == 'a6'"}],
          "mark": {"type": "point", "shape": "M0,0L0.6,1L-0.6,1Z", "filled": true, "color": "#4caf50", "opacity": 1, "size": 4624, "strokeWidth": 0, "angle": 216},
          "encoding": {
            "x": {"field": "t", "type": "temporal", "axis": null},
            "y": {"field": "p", "type": "quantitative", "axis": null}
          }
        }
      ]
    }
  ]
}
